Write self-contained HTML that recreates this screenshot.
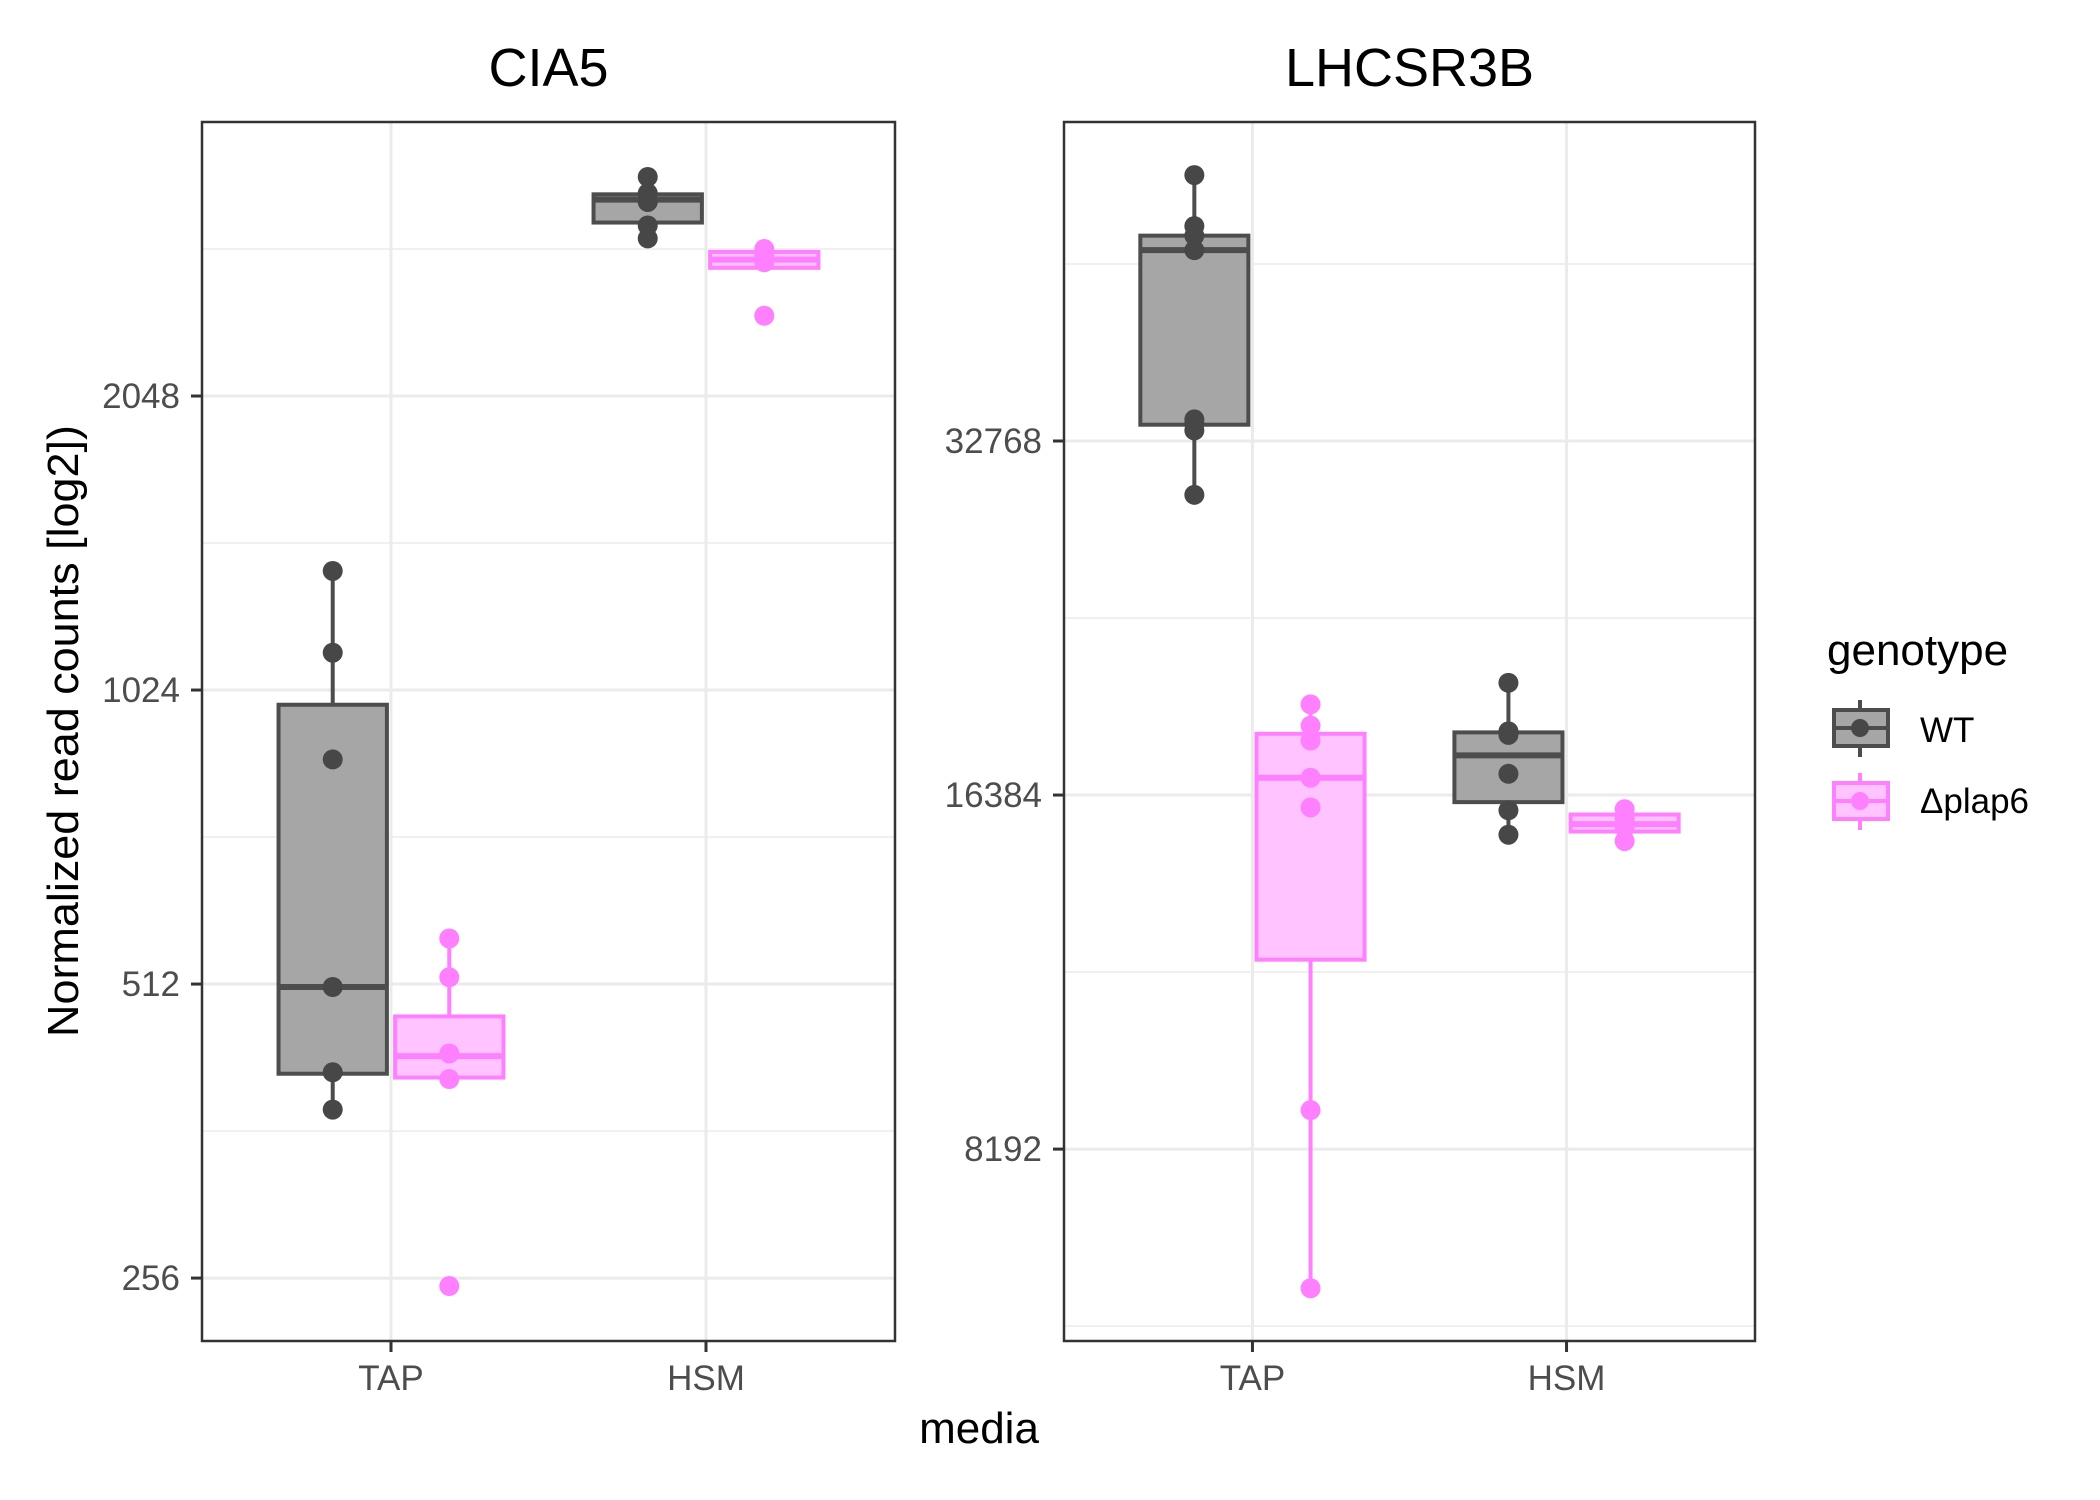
<!DOCTYPE html>
<html><head><meta charset="utf-8"><style>
html,body{margin:0;padding:0;background:#fff;}
svg{display:block;font-family:"Liberation Sans",sans-serif;}
</style></head><body>
<svg id="chart" width="2100" height="1500" viewBox="0 0 2100 1500" xmlns="http://www.w3.org/2000/svg">
<rect x="0" y="0" width="2100" height="1500" fill="#fff"/>
<text x="0" y="0" transform="translate(78,731) rotate(-90)" text-anchor="middle" font-size="44" textLength="612" lengthAdjust="spacingAndGlyphs" fill="#000">Normalized read counts [log2])</text>
<text x="979" y="1443" text-anchor="middle" font-size="44" fill="#000">media</text>
<g>
<text x="1827" y="665" font-size="44" fill="#000">genotype</text>
<g>
<line x1="1860" y1="700" x2="1860" y2="757" stroke="#4d4d4d" stroke-width="4"/>
<rect x="1834" y="710" width="54" height="36" fill="#a6a6a6" stroke="#4d4d4d" stroke-width="4"/>
<line x1="1834" y1="728" x2="1888" y2="728" stroke="#4d4d4d" stroke-width="4"/>
<circle cx="1860" cy="728" r="9" fill="#474747"/>
<text x="1920" y="742" font-size="35" fill="#000">WT</text>
</g>
<g>
<line x1="1860" y1="773" x2="1860" y2="830" stroke="#ff80ff" stroke-width="4"/>
<rect x="1834" y="783" width="54" height="36" fill="#ffc4ff" stroke="#ff80ff" stroke-width="4"/>
<line x1="1834" y1="801" x2="1888" y2="801" stroke="#ff80ff" stroke-width="4"/>
<circle cx="1860" cy="801" r="9" fill="#ff80ff"/>
<text x="1920" y="813" font-size="35" fill="#000">Δplap6</text>
</g>
</g>
</svg>
<script>
// categories & series
const categories = ["TAP", "HSM"];
const genotypes = ["WT", "Δplap6"];
const panelTitles = ["CIA5", "LHCSR3B"];
const panelTicks = [[256, 512, 1024, 2048], [8192, 16384, 32768]];
// box stats per panel: [category][genotype] = [lowWhisker, q1, median, q3, highWhisker] in log2
const cia5Boxes = [
  [[8.573, 8.695, 8.99, 9.95, 10.405], [8.677, 8.682, 8.755, 8.89, 9.155]],
  [[11.536, 11.59, 11.668, 11.686, 11.745], [11.436, 11.436, 11.464, 11.49, 11.5]]
];
const lhcsrBoxes = [
  [[14.848, 15.046, 15.539, 15.58, 15.751], [12.607, 13.535, 14.049, 14.173, 14.256]],
  [[13.888, 13.98, 14.112, 14.177, 14.317], [13.87, 13.897, 13.918, 13.945, 13.96]]
];
// observed points (log2)
const cia5Points = [
  [[10.405, 10.127, 9.764, 8.99, 8.70, 8.573], [9.155, 9.023, 8.764, 8.677, 7.973]],
  [[11.745, 11.69, 11.66, 11.58, 11.536], [11.5, 11.477, 11.455, 11.273]]
];
const lhcsrPoints = [
  [[15.751, 15.607, 15.58, 15.539, 15.061, 15.049, 15.03, 14.848], [14.256, 14.196, 14.154, 14.049, 13.965, 13.11, 12.607]],
  [[14.317, 14.18, 14.17, 14.06, 13.957, 13.888], [13.96, 13.933, 13.907, 13.87]]
];

const svg = document.getElementById('chart');
const NS = 'http://www.w3.org/2000/svg';
function mk(tag, attrs, parent) {
  const e = document.createElementNS(NS, tag);
  for (const k in attrs) e.setAttribute(k, attrs[k]);
  (parent || svg).appendChild(e);
  return e;
}
const panels = [
  {left: 202, right: 895, domain: [7.786, 11.932], boxes: cia5Boxes, points: cia5Points},
  {left: 1064, right: 1755, domain: [12.458, 15.901], boxes: lhcsrBoxes, points: lhcsrPoints}
];
const TOP = 122, BOTTOM = 1341;
const styles = [
  {fill: '#a6a6a6', stroke: '#4d4d4d', pt: '#474747'},
  {fill: '#ffc4ff', stroke: '#ff80ff', pt: '#ff80ff'}
];
panels.forEach((p, pi) => {
  const g = mk('g', {});
  
  
  const ys = v => BOTTOM - (v - p.domain[0]) / (p.domain[1] - p.domain[0]) * (BOTTOM - TOP);
  const unit = (p.right - p.left) / 2.2;
  const xs = c => p.left + (c + 0.6) * unit;
  const lo = Math.floor(p.domain[0]), hi = Math.ceil(p.domain[1]);
  for (let k = lo; k <= hi; k++) {
    const m = k + 0.5;
    if (m > p.domain[0] && m < p.domain[1]) mk('line', {x1: p.left, x2: p.right, y1: ys(m), y2: ys(m), stroke: '#ebebeb', 'stroke-width': 1.5}, g);
  }
  const tickLabelsG = mk('g', {}, g);
  
  
  panelTicks[pi].forEach(t => {
    const y = ys(Math.log2(t));
    mk('line', {x1: p.left, x2: p.right, y1: y, y2: y, stroke: '#ebebeb', 'stroke-width': 3}, g);
    mk('line', {x1: p.left - 11, x2: p.left, y1: y, y2: y, stroke: '#333', 'stroke-width': 3}, g);
    const tx = mk('text', {x: p.left - 22, y: y + 12, 'text-anchor': 'end', 'font-size': 35, fill: '#4d4d4d'}, tickLabelsG);
    tx.textContent = t;
  });
  categories.forEach((c, ci) => {
    const x = xs(ci);
    mk('line', {x1: x, x2: x, y1: TOP, y2: BOTTOM, stroke: '#ebebeb', 'stroke-width': 3}, g);
    mk('line', {x1: x, x2: x, y1: BOTTOM, y2: BOTTOM + 11, stroke: '#333', 'stroke-width': 3}, g);
    const tx = mk('text', {x: x, y: BOTTOM + 49, 'text-anchor': 'middle', 'font-size': 35, fill: '#4d4d4d'}, g);
    
    
    tx.textContent = c;
  });
  categories.forEach((c, ci) => {
    genotypes.forEach((gn, gi) => {
      const st = styles[gi];
      const cx = xs(ci) + (gi === 0 ? -0.185 : 0.185) * unit;
      const hw = 0.172 * unit;
      const b = p.boxes[ci][gi];
      const bg = mk('g', {}, g);
      
      
      mk('line', {x1: cx, x2: cx, y1: ys(b[4]), y2: ys(b[3]), stroke: st.stroke, 'stroke-width': 4}, bg);
      mk('line', {x1: cx, x2: cx, y1: ys(b[1]), y2: ys(b[0]), stroke: st.stroke, 'stroke-width': 4}, bg);
      mk('rect', {x: cx - hw, y: ys(b[3]), width: 2 * hw, height: Math.max(0, ys(b[1]) - ys(b[3])), fill: st.fill, stroke: st.stroke, 'stroke-width': 4}, bg);
      mk('line', {x1: cx - hw, x2: cx + hw, y1: ys(b[2]), y2: ys(b[2]), stroke: st.stroke, 'stroke-width': 6}, bg);
      p.points[ci][gi].forEach(v => {
        const pt = mk('circle', {cx: cx, cy: ys(v), r: 10, fill: st.pt}, bg);
        
        
      });
    });
  });
  mk('rect', {x: p.left, y: TOP, width: p.right - p.left, height: BOTTOM - TOP, fill: 'none', stroke: '#333', 'stroke-width': 2.5}, g);
  const tt = mk('text', {x: (p.left + p.right) / 2, y: 86, 'text-anchor': 'middle', 'font-size': 54, fill: '#000'}, g);
  
  
  tt.textContent = panelTitles[pi];
});
</script>
</body></html>
